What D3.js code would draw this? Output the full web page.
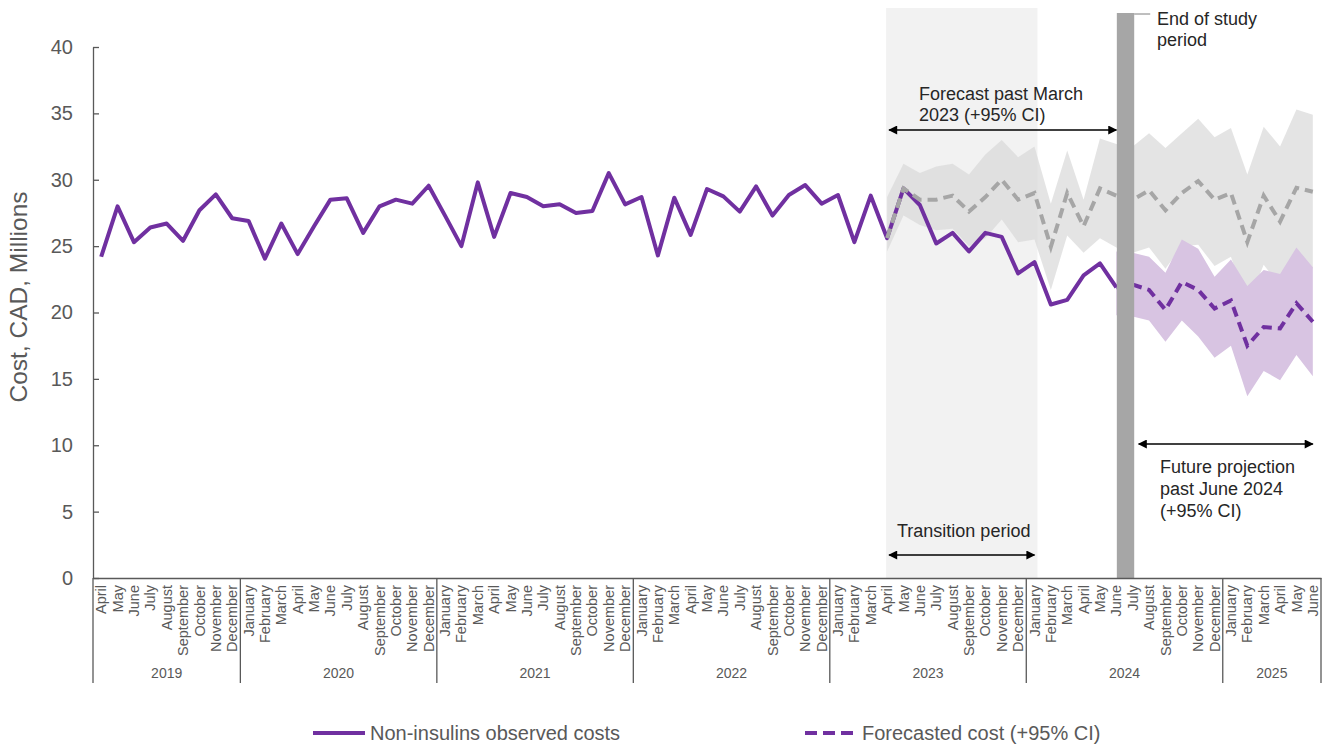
<!DOCTYPE html>
<html>
<head>
<meta charset="utf-8">
<script src="https://cdn.jsdelivr.net/npm/d3@7"></script>
<style>
  body { margin: 0; background: #fff; }
  svg { display: block; font-family: "Liberation Sans", Arial, sans-serif; }
</style>
</head>
<body>
<svg id="chart" width="1329" height="745"></svg>
<script>
// Month categories, April 2019 to June 2025
const monthLabels = [
  "April","May","June","July","August","September","October","November","December",
  "January","February","March","April","May","June","July","August","September","October","November","December",
  "January","February","March","April","May","June","July","August","September","October","November","December",
  "January","February","March","April","May","June","July","August","September","October","November","December",
  "January","February","March","April","May","June","July","August","September","October","November","December",
  "January","February","March","April","May","June","July","August","September","October","November","December",
  "January","February","March","April","May","June"
];
const yearLabels = ["2019","2020","2021","2022","2023","2024","2025"];
const monthsPerYear = [9, 12, 12, 12, 12, 12, 6];
const yTicks = [0, 5, 10, 15, 20, 25, 30, 35, 40];

// Non-insulins observed costs (CAD millions), April 2019 - June 2024
const observed = [
  24.2, 28.0, 25.3, 26.4, 26.7, 25.4, 27.7, 28.9, 27.1,
  26.9, 24.05, 26.7, 24.4, 26.5, 28.5, 28.6, 26.0, 28.0, 28.5, 28.2, 29.55,
  27.3, 25.0, 29.8, 25.7, 29.0, 28.7, 28.0, 28.15, 27.5, 27.65, 30.5, 28.15,
  28.7, 24.3, 28.65, 25.85, 29.3, 28.75, 27.6, 29.5, 27.3, 28.85, 29.6, 28.2,
  28.85, 25.3, 28.8, 25.6, 29.35, 28.1, 25.2, 26.0, 24.6, 26.0, 25.7, 22.95,
  23.8, 20.6, 20.95, 22.8, 23.7, 21.9
];

// Forecast past March 2023 (grey), April 2023 - June 2025
const greyStart = 48;
const greyForecast = [
  25.6, 29.35, 28.5, 28.5, 28.8, 27.6, 28.7, 30.0, 28.5,
  29.0, 24.95, 29.0, 26.5, 29.35, 28.8, 28.5, 29.2, 27.7, 29.0, 29.9, 28.5,
  29.0, 25.3, 28.8, 26.85, 29.4, 29.1
];
const greyUpper = [
  28.7, 31.2, 30.5, 31.0, 31.2, 30.4, 31.9, 33.0, 31.7,
  32.5, 28.2, 32.2, 28.5, 33.1, 32.7, 32.5, 33.5, 32.4, 33.5, 34.6, 33.2,
  33.9, 30.4, 34.0, 32.5, 35.3, 34.9
];
const greyLower = [
  24.6, 27.3, 26.6, 26.2, 26.3, 25.0, 25.6, 27.0, 25.3,
  25.5, 21.7, 25.8, 24.5, 25.6, 24.9, 24.5, 24.9, 23.3, 25.0, 25.1, 23.5,
  24.2, 20.6, 23.6, 22.0, 24.0, 23.3
];

// Future projection past June 2024 (purple), June 2024 - June 2025
const purpleStart = 62;
const purpleForecast = [21.9, 22.1, 21.7, 20.2, 22.3, 21.7, 20.3, 20.9, 17.5, 18.9, 18.8, 20.7, 19.3];
const purpleUpper    = [24.6, 24.5, 24.2, 23.0, 25.5, 24.8, 22.7, 24.0, 22.0, 23.2, 22.9, 24.9, 23.4];
const purpleLower    = [19.8, 19.7, 19.4, 17.8, 19.4, 18.2, 16.6, 17.5, 13.7, 15.6, 14.9, 16.8, 15.2];

// Annotation anchors (month indices)
const transitionFrom = 48, transitionTo = 57;   // April 2023 - January 2024
const studyEnd = 62;                             // June 2024

const PURPLE = "#7030a0";
const GREY_LINE = "#a6a6a6";
const TEXT = "#595959";

const svg = d3.select("#chart");
const plotLeft = 93, plotRight = 1321, plotTop = 47, plotBottom = 578;

const x = d3.scaleBand().domain(d3.range(monthLabels.length)).range([plotLeft, plotRight]).padding(0);
const cx = i => x(i) + x.bandwidth() / 2;
const y = d3.scaleLinear().domain([0, 40]).range([plotBottom, plotTop]);

// arrow markers
const defs = svg.append("defs");
["start", "end"].forEach(k => {
  defs.append("marker")
    .attr("id", "arrow-" + k)
    .attr("viewBox", "0 0 10 10")
    .attr("refX", 9).attr("refY", 5)
    .attr("markerWidth", 10).attr("markerHeight", 9)
    .attr("markerUnits", "userSpaceOnUse")
    .attr("orient", "auto-start-reverse")
    .append("path").attr("d", "M0,0 L10,5 L0,10 Z").attr("fill", "#000");
});

// transition period shading
svg.append("rect")
  .attr("x", cx(transitionFrom) - 1)
  .attr("y", 8)
  .attr("width", cx(transitionTo) + 3 - (cx(transitionFrom) - 1))
  .attr("height", plotBottom - 8)
  .attr("fill", "#f2f2f2");

// confidence bands
const gIdx = d3.range(greyForecast.length);
svg.append("path")
  .datum(gIdx)
  .attr("fill", "#d9d9d9")
  .attr("fill-opacity", 0.7)
  .attr("d", d3.area()
    .x(k => cx(greyStart + k))
    .y0(k => y(greyLower[k]))
    .y1(k => y(greyUpper[k])));

const pIdx = d3.range(purpleForecast.length);
svg.append("path")
  .datum(pIdx)
  .attr("fill", "#d8c4e2")
  .attr("d", d3.area()
    .x(k => cx(purpleStart + k))
    .y0(k => y(purpleLower[k]))
    .y1(k => y(purpleUpper[k])));

// observed line
svg.append("path")
  .datum(observed)
  .attr("fill", "none")
  .attr("stroke", PURPLE)
  .attr("stroke-width", 4)
  .attr("stroke-linejoin", "round")
  .attr("d", d3.line().x((d, i) => cx(i)).y(d => y(d)));

// forecast dashed lines
svg.append("path")
  .datum(greyForecast)
  .attr("fill", "none")
  .attr("stroke", GREY_LINE)
  .attr("stroke-width", 4)
  .attr("stroke-dasharray", "10,6")
  .attr("d", d3.line().x((d, k) => cx(greyStart + k)).y(d => y(d)));

svg.append("path")
  .datum(purpleForecast)
  .attr("fill", "none")
  .attr("stroke", PURPLE)
  .attr("stroke-width", 4)
  .attr("stroke-dasharray", "10,6")
  .attr("d", d3.line().x((d, k) => cx(purpleStart + k)).y(d => y(d)));

// end of study bar
const barX0 = cx(studyEnd) + 0.5;
const barX1 = cx(studyEnd + 1) + 1.5;
svg.append("rect")
  .attr("x", barX0).attr("y", 13)
  .attr("width", barX1 - barX0).attr("height", plotBottom - 13)
  .attr("fill", "#a6a6a6");
svg.append("line")
  .attr("x1", barX1).attr("x2", barX1 + 16)
  .attr("y1", 14).attr("y2", 14)
  .attr("stroke", "#7f7f7f").attr("stroke-width", 1);

// y axis
const yAxis = svg.append("g")
  .attr("transform", `translate(${plotLeft},0)`)
  .call(d3.axisLeft(y).tickValues(yTicks).tickSizeInner(-6).tickSizeOuter(0).tickPadding(20));
yAxis.select(".domain").attr("stroke", "#595959").attr("stroke-width", 1.3);
yAxis.selectAll(".tick line").attr("stroke", "#595959").attr("stroke-width", 1.3);
yAxis.selectAll(".tick text").attr("fill", TEXT).attr("font-size", 20)
  .attr("font-family", "Liberation Sans, Arial, sans-serif");

svg.append("text")
  .attr("transform", "translate(27,297) rotate(-90)")
  .attr("text-anchor", "middle")
  .attr("fill", TEXT)
  .attr("font-size", 24.5)
  .text("Cost, CAD, Millions");

// x axis: months
const xAxis = svg.append("g")
  .attr("transform", `translate(0,${plotBottom})`)
  .call(d3.axisBottom(x).tickSize(0).tickFormat(i => monthLabels[i]));
xAxis.select(".domain").attr("stroke", "#595959").attr("stroke-width", 1.3);
xAxis.selectAll(".tick text")
  .attr("transform", "rotate(-90)")
  .attr("text-anchor", "end")
  .attr("x", -7).attr("y", 0).attr("dy", "0.35em")
  .attr("fill", TEXT).attr("font-size", 14.5)
  .attr("font-family", "Liberation Sans, Arial, sans-serif");

// year groups
let acc = 0;
const yearBounds = [0];
monthsPerYear.forEach(n => { acc += n; yearBounds.push(acc); });
yearBounds.forEach(b => {
  const xb = b < monthLabels.length ? x(b) : plotRight;
  svg.append("line")
    .attr("x1", xb).attr("x2", xb)
    .attr("y1", plotBottom).attr("y2", 683)
    .attr("stroke", "#595959").attr("stroke-width", 1.3);
});
yearLabels.forEach((yr, k) => {
  const x0 = x(yearBounds[k]);
  const x1 = yearBounds[k + 1] < monthLabels.length ? x(yearBounds[k + 1]) : plotRight;
  svg.append("text")
    .attr("x", (x0 + x1) / 2).attr("y", 678)
    .attr("text-anchor", "middle")
    .attr("fill", TEXT).attr("font-size", 14)
    .text(yr);
});

// annotations
function arrow(x1, x2, yy) {
  svg.append("line")
    .attr("x1", x1).attr("x2", x2).attr("y1", yy).attr("y2", yy)
    .attr("stroke", "#000").attr("stroke-width", 1.5)
    .attr("marker-start", "url(#arrow-start)")
    .attr("marker-end", "url(#arrow-end)");
}
function label(lines, x0, y0, lh) {
  const t = svg.append("text").attr("x", x0).attr("y", y0)
    .attr("fill", "#262626").attr("font-size", 18);
  lines.forEach((s, k) => t.append("tspan").attr("x", x0).attr("y", y0 + k * lh).text(s));
}

arrow(cx(transitionFrom) + 2, cx(studyEnd), 130);
label(["Forecast past March", "2023 (+95% CI)"], 919, 100, 21);

arrow(cx(transitionFrom) + 2, cx(transitionTo), 555);
label(["Transition period"], 897, 537, 21);

arrow(cx(studyEnd + 1) + 6, cx(monthLabels.length - 1), 444);
label(["Future projection", "past June 2024", "(+95% CI)"], 1160, 473, 22);

label(["End of study", "period"], 1157, 25, 21);

// legend
const legY = 733;
svg.append("line").attr("x1", 313).attr("x2", 365).attr("y1", legY).attr("y2", legY)
  .attr("stroke", PURPLE).attr("stroke-width", 4);
svg.append("text").attr("x", 370).attr("y", legY + 7)
  .attr("fill", TEXT).attr("font-size", 20).text("Non-insulins observed costs");
svg.append("line").attr("x1", 805).attr("x2", 857).attr("y1", legY).attr("y2", legY)
  .attr("stroke", PURPLE).attr("stroke-width", 4).attr("stroke-dasharray", "12,6");
svg.append("text").attr("x", 862).attr("y", legY + 7)
  .attr("fill", TEXT).attr("font-size", 20).text("Forecasted cost (+95% CI)");
</script>
</body>
</html>
